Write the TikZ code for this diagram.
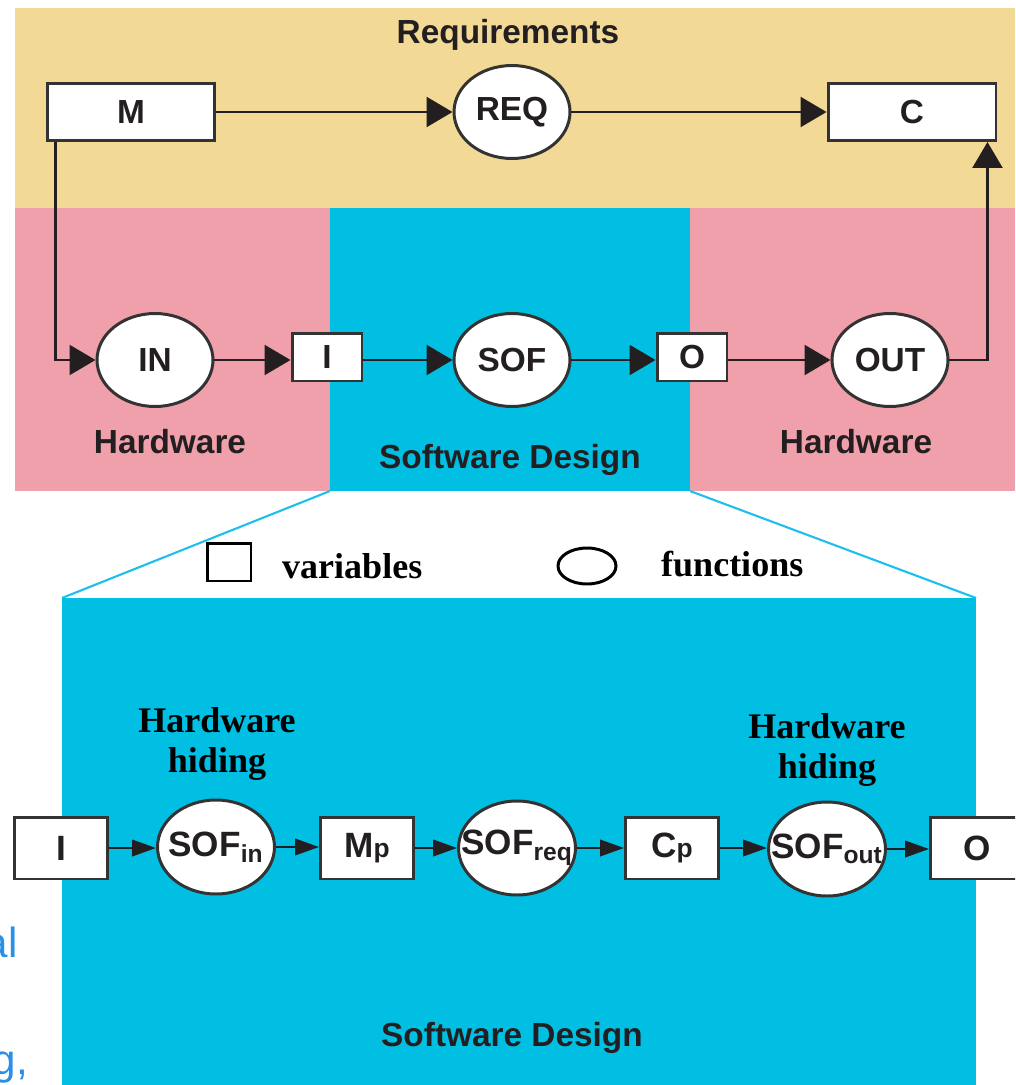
\documentclass[tikz,border=0pt]{standalone}
\usepackage{fontspec}
\setmainfont{Liberation Serif}
\setsansfont{Liberation Sans}
\usetikzlibrary{arrows.meta}
\usetikzlibrary{shapes.geometric}
\definecolor{reqyellow}{HTML}{F3D996}
\definecolor{hwpink}{HTML}{EFA0AA}
\definecolor{swblue}{HTML}{00BFE3}
\definecolor{zoomblue}{HTML}{1DBFEF}
\definecolor{inkgray}{HTML}{231F20}
\definecolor{boxgray}{HTML}{333333}
\definecolor{slideblue}{HTML}{2A8FE6}
\newcommand{\sanslab}{\fontsize{19pt}{22pt}\selectfont\sffamily\bfseries}
\newcommand{\lowlab}{\fontsize{20pt}{22pt}\selectfont\sffamily\bfseries}
\newcommand{\seriflab}{\fontsize{20.5pt}{22.5pt}\selectfont\rmfamily\bfseries}
\newcommand{\lowp}{{\fontsize{15pt}{15pt}\selectfont p}}

\begin{document}
\begin{tikzpicture}[x=0.02cm,y=-0.02cm,font=\sanslab,text=inkgray,
  varbox/.style={draw=boxgray,fill=white,line width=1.7pt,inner sep=0pt},
  bigvar/.style={varbox,minimum width=3.36cm,minimum height=1.14cm},
  midvar/.style={varbox,minimum width=1.4cm,minimum height=0.96cm},
  lowvar/.style={varbox,font=\lowlab,minimum width=1.86cm,minimum height=1.24cm},
  funcell/.style={ellipse,draw=boxgray,fill=white,line width=1.7pt,inner ysep=0pt,
    inner xsep=-0.4cm,minimum width=2.32cm,minimum height=1.86cm},
  lowfun/.style={funcell,font=\lowlab,minimum width=2.34cm,minimum height=1.88cm},
  bigarr/.style={draw=inkgray,line width=1.4pt,-{Triangle[length=0.52cm,width=0.6cm]}},
  lowarr/.style={draw=inkgray,line width=1.3pt,-{Triangle[length=0.48cm,width=0.33cm]}}]
\useasboundingbox (0,0) rectangle (1015,1085);
\begin{scope}
\clip (0,0) rectangle (1015,1085);

% areas
\fill[reqyellow] (15,8) rectangle (1015,208);
\fill[hwpink] (15,208) rectangle (330,491);
\fill[swblue] (330,208) rectangle (690,491);
\fill[hwpink] (690,208) rectangle (1015,491);
\draw[zoomblue,line width=1.2pt] (330,491) -- (62,598);
\draw[zoomblue,line width=1.2pt] (690,491) -- (976,598);
\fill[swblue] (62,598) rectangle (976,1085);

\node[text=slideblue,font=\fontsize{24pt}{24pt}\selectfont\sffamily,anchor=base east] (al) at (24,957) {al};
\node[text=slideblue,font=\fontsize{24pt}{24pt}\selectfont\sffamily,anchor=base east] (gc) at (34,1074) {g,};

% top: requirements
\node (req-title) at (508,35) {Requirements};
\node[bigvar] (M) at (131,112) {M};
\node[funcell] (REQ) at (512,112) {REQ};
\node[bigvar] (C) at (912,112) {C};

% middle: hardware / software
\node[funcell] (IN) at (155,360) {IN};
\node[midvar] (I) at (327,357) {I};
\node[funcell] (SOF) at (512,360) {SOF};
\node[midvar] (O) at (692,357) {O};
\node[funcell] (OUT) at (890,360) {OUT};
\node (hw-left) at (170,442) {Hardware};
\node (sw-mid) at (510,460) {Software Design};
\node (hw-right) at (856,442) {Hardware};

\draw[bigarr] (M) -- (REQ);
\draw[bigarr] (REQ) -- (C);
\draw[bigarr] ([xshift=0.2cm]M.south west) |- (IN.west);
\draw[bigarr] (IN.east) -- (IN.east -| I.west);
\draw[bigarr] (I.east |- SOF.west) -- (SOF.west);
\draw[bigarr] (SOF.east) -- (SOF.east -| O.west);
\draw[bigarr] (O.east |- OUT.west) -- (OUT.west);
\draw[bigarr] (OUT.east) -| ([xshift=-0.2cm]C.south east);

% legend
\node[draw=black,line width=1.7pt,minimum width=0.88cm,minimum height=0.76cm,inner sep=0pt] (leg-var) at (229,562) {};
\node[font=\seriflab,text=black,anchor=base west] (leg-var-txt) at (276,578) {variables};
\node[ellipse,draw=black,line width=1.7pt,minimum width=1.16cm,minimum height=0.72cm,inner sep=0pt] (leg-fun) at (587,566) {};
\node[font=\seriflab,text=black,anchor=base west] (leg-fun-txt) at (655,576) {functions};

% bottom: software design detail
\node[lowvar] (I2) at (61,848) {I};
\node[lowfun] (SOFin) at (216,847) {SOF\textsubscript{in}};
\node[lowvar] (Mp) at (367,848) {M\lowp};
\node[lowfun] (SOFreq) at (517,848) {SOF\textsubscript{req}};
\node[lowvar] (Cp) at (672,848) {C\lowp};
\node[lowfun] (SOFout) at (827,849) {SOF\textsubscript{out}};
\node[lowvar] (O2) at (977,848) {O};
\node[font=\seriflab,text=black,align=center] (hide-in) at (217,744) {Hardware\\hiding};
\node[font=\seriflab,text=black,align=center] (hide-out) at (827,750) {Hardware\\hiding};
\node (sw-low) at (512,1038) {Software Design};

\draw[lowarr] (I2.east) -- (I2.east -| SOFin.west);
\draw[lowarr] (SOFin.east) -- (SOFin.east -| Mp.west);
\draw[lowarr] (Mp.east) -- (Mp.east -| SOFreq.west);
\draw[lowarr] (SOFreq.east) -- (SOFreq.east -| Cp.west);
\draw[lowarr] (Cp.east) -- (Cp.east -| SOFout.west);
\draw[lowarr] (SOFout.east) -- (SOFout.east -| O2.west);
\end{scope}
\end{tikzpicture}
\end{document}
